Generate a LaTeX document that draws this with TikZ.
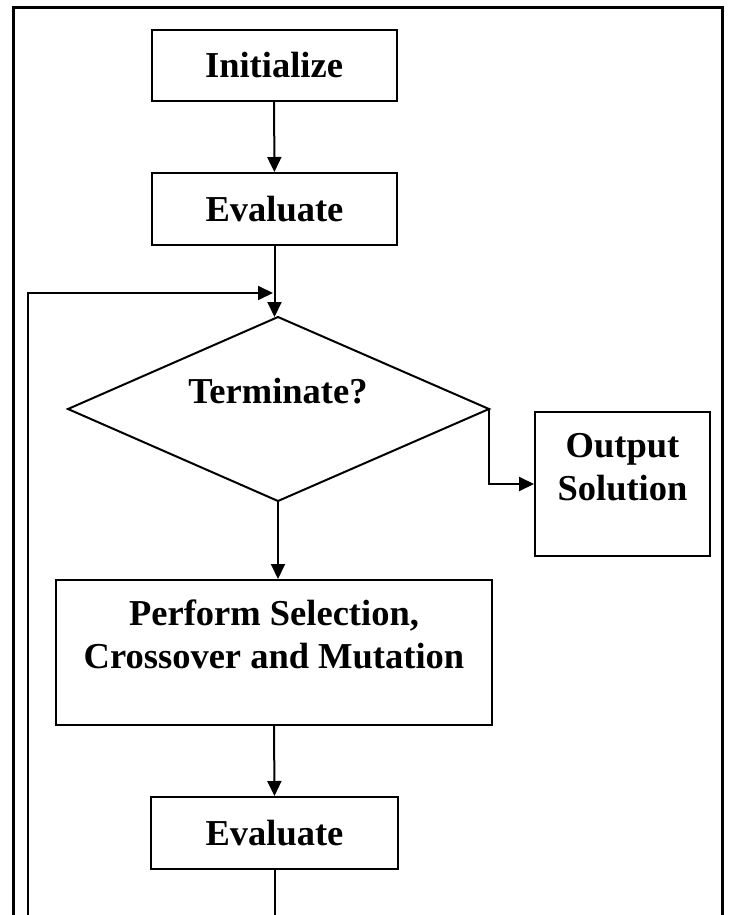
\documentclass[tikz,border=0pt]{standalone}
\usepackage{fontspec}
\setmainfont{Liberation Serif}
\usetikzlibrary{arrows.meta}
\begin{document}
\begin{tikzpicture}[x=1pt,y=-1pt,
  box/.style={draw, line width=2pt, inner sep=0pt, font=\fontsize{36.5}{43}\selectfont\bfseries, align=center},
  txt/.style={font=\fontsize{36.5}{43}\selectfont\bfseries, align=center, inner sep=0pt},
  conn/.style={line width=2pt, -{Triangle[length=15pt,width=14pt]}},
  plainline/.style={line width=2pt},
  framestyle/.style={line width=3pt, line join=miter}]
\useasboundingbox (0,0) rectangle (730,915);
% frame
\coordinate (fbl) at (13,915);
\coordinate (ftl) at (13,8);
\coordinate (ftr) at (722,8);
\coordinate (fbr) at (722,915);
\draw[framestyle] (fbl) -- (ftl) -- (ftr) -- (fbr);
% boxes
\node[box, minimum width=245pt, minimum height=71pt] (init) at (274,65.5) {Initialize};
\node[box, minimum width=245pt, minimum height=72pt] (eval1) at (274.5,209) {Evaluate};
% diamond
\coordinate (dt) at (278,317);
\coordinate (dr) at (489,409);
\coordinate (db) at (278,501);
\coordinate (dl) at (68,409);
\draw[line width=2pt, line join=miter] (dt) -- (dr) -- (db) -- (dl) -- cycle;
\node[txt] (term) at (278,391) {Terminate?};
% output
\node[box, minimum width=175pt, minimum height=144pt] (out) at (622.5,484) {};
\node[txt] (outt) at (622.5,467.5) {Output\\Solution};
% perform
\node[box, minimum width=436pt, minimum height=145pt] (perf) at (274,652.5) {};
\node[txt] (perft) at (274,634) {Perform Selection,\\Crossover and Mutation};
% evaluate 2
\node[box, minimum width=247pt, minimum height=72pt] (eval2) at (274.5,833) {Evaluate};
% connectors
\draw[conn] (init) -- (eval1);
\draw[conn] (eval1.south) -- (eval1.south |- dt);
\coordinate (loopbot) at (28,915);
\coordinate (looptop) at (28,293);
\coordinate (loopend) at (273,293);
\draw[conn] (loopbot) -- (looptop) -- (loopend);
\draw[conn] (dr) |- (out.west);
\draw[conn] (db) -- (db |- perf.north);
\draw[conn] (perf.south) -- (eval2.north);
\coordinate (evbot) at (274.5,915);
\draw[plainline] (eval2.south) -- (evbot);
\end{tikzpicture}
\end{document}
